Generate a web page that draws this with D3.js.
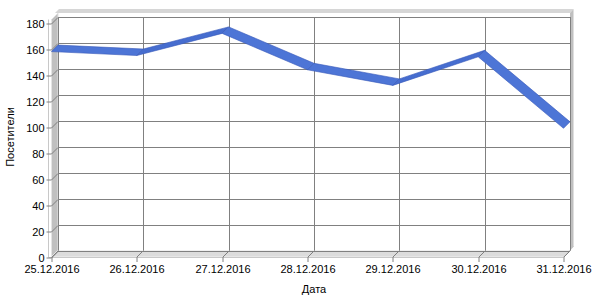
<!DOCTYPE html>
<meta charset="utf-8">
<script src="https://d3js.org/d3.v7.min.js"></script>
<style>
  body { margin: 0; background: #fff; }
  text { font-family: "Liberation Sans", Arial, sans-serif; font-size: 11px; fill: #000; }
</style>
<div id="my_dataviz"></div>
<script>

// data
var dates = ["25.12.2016", "26.12.2016", "27.12.2016", "28.12.2016", "29.12.2016", "30.12.2016", "31.12.2016"];
var visitors = [158, 155, 172, 144, 132, 154, 99];
var yTicks = [0, 20, 40, 60, 80, 100, 120, 140, 160, 180];

var width = 600, height = 300;
// depth shift from back wall to front plane
var dx = -6.5, dy = 6.5;

var svg = d3.select("#my_dataviz")
  .append("svg")
    .attr("width", width)
    .attr("height", height);

// scales on the back wall
var x = d3.scalePoint()
  .domain(dates)
  .range([58, 570]);
var y = d3.scaleLinear()
  .domain([0, 180])
  .range([250.5, 16.5]);

var x0 = x.range()[0], x1 = x.range()[1];
var yb = y(0), yt = y(180) - 3.5;

function pts(a) { return a.map(function(p) { return p.join(","); }).join(" "); }

// back wall top edge
svg.append("polygon")
  .attr("points", pts([[x0 - 3, yt], [x0 + 1, yt - 4], [x1 + 3.5, yt - 4], [x1, yt]]))
  .attr("fill", "#d6d6d6");
// right edge of back wall
svg.append("polygon")
  .attr("points", pts([[x1, yt], [x1 + 3.5, yt - 4], [x1 + 3.5, yb - 4], [x1, yb]]))
  .attr("fill", "#c0c0c0");

// left wall
svg.append("polygon")
  .attr("points", pts([[x0, yt], [x0, yb], [x0 + dx, yb + dy], [x0 + dx, yt + dy]]))
  .attr("fill", "#c0c0c0")
  .attr("stroke", "#e4e4e4");

// floor
svg.append("polygon")
  .attr("points", pts([[x0, yb], [x1, yb], [x1 + dx, yb + dy], [x0 + dx, yb + dy]]))
  .attr("fill", "#dcdcdc")
  .attr("stroke", "#f0f0f0");
svg.append("line")
  .attr("x1", x0 + dx - 3).attr("x2", x1 + dx)
  .attr("y1", yb + dy + 0.5).attr("y2", yb + dy + 0.5)
  .attr("stroke", "#c8c8c8");
svg.append("line")
  .attr("x1", x1 + dx).attr("x2", x1 + 3.5)
  .attr("y1", yb + dy).attr("y2", yb - 4)
  .attr("stroke", "#c8c8c8");
svg.append("line")
  .attr("x1", x0 + dx - 3).attr("x2", x0 + dx - 3)
  .attr("y1", yt + dy).attr("y2", yb + dy + 0.5)
  .attr("stroke", "#c8c8c8");

// horizontal grid + y ticks
yTicks.forEach(function(t) {
  var yy = Math.round(y(t)) + 0.5;
  svg.append("line")
    .attr("x1", x0).attr("x2", x1)
    .attr("y1", yy).attr("y2", yy)
    .attr("stroke", "#808080");
  svg.append("polyline")
    .attr("points", pts([[x0, yy], [x0 + dx, yy + dy], [x0 + dx - 5, yy + dy]]))
    .attr("fill", "none")
    .attr("stroke", "#808080");
  svg.append("text")
    .attr("x", x0 + dx - 7)
    .attr("y", yy + dy)
    .attr("dy", "0.35em")
    .attr("text-anchor", "end")
    .text(t);
});

// vertical grid + x ticks
dates.forEach(function(d) {
  var xx = Math.round(x(d)) + 0.5;
  svg.append("line")
    .attr("x1", xx).attr("x2", xx)
    .attr("y1", yt + 4).attr("y2", yb)
    .attr("stroke", "#808080");
  svg.append("polyline")
    .attr("points", pts([[xx, yb], [xx + dx, yb + dy], [xx + dx, yb + dy + 5]]))
    .attr("fill", "none")
    .attr("stroke", "#808080");
  svg.append("text")
    .attr("x", xx + dx)
    .attr("y", yb + dy + 12)
    .attr("dy", "0.35em")
    .attr("text-anchor", "middle")
    .text(d);
});

// ribbon line
var series = dates.map(function(d, i) { return [x(d), y(visitors[i])]; });
for (var i = 0; i < series.length - 1; i++) {
  var a = series[i], b = series[i + 1];
  var down = b[1] > a[1];
  svg.append("polygon")
    .attr("points", pts([a, b, [b[0] + dx, b[1] + dy], [a[0] + dx, a[1] + dy]]))
    .attr("fill", down ? "#4d75d6" : "#466dcf")
    .attr("stroke", "#3558b8")
    .attr("stroke-width", 0.6);
}

// axis titles
svg.append("text")
  .attr("x", 314)
  .attr("y", 289)
  .attr("dy", "0.35em")
  .attr("text-anchor", "middle")
  .text("Дата");
svg.append("text")
  .attr("transform", "translate(10,137)rotate(-90)")
  .attr("dy", "0.35em")
  .attr("text-anchor", "middle")
  .text("Посетители");

</script>
